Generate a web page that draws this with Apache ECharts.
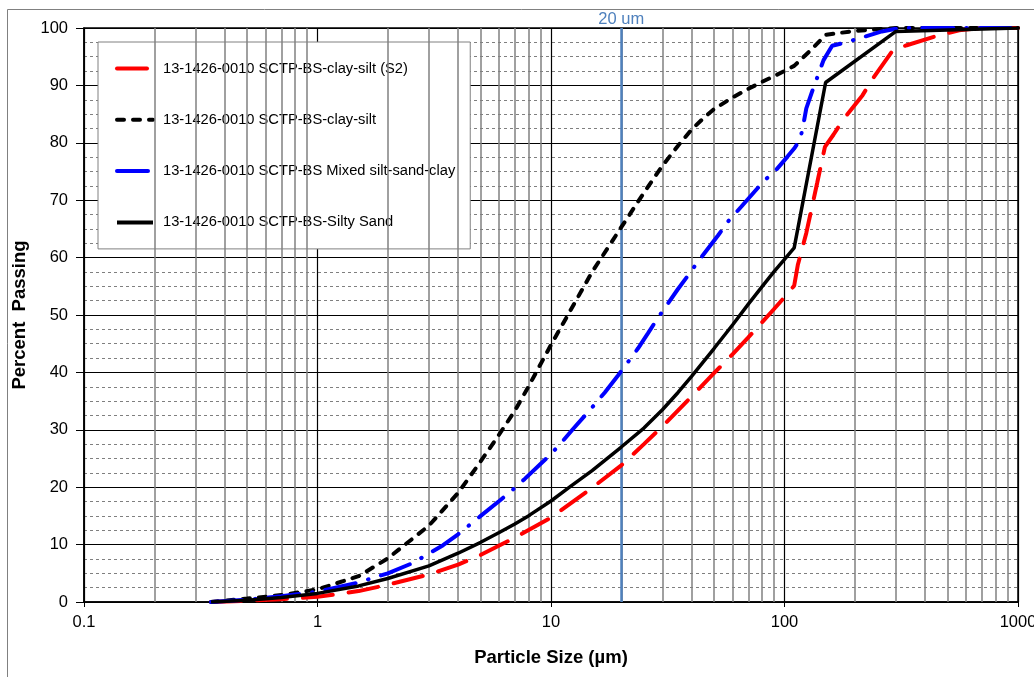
<!DOCTYPE html>
<html>
<head>
<meta charset="utf-8">
<script src="https://cdn.jsdelivr.net/npm/echarts@6.0.0/dist/echarts.min.js"></script>
<style>
  html, body { margin: 0; padding: 0; background: #fff; }
  #main { width: 1034px; height: 677px; }
</style>
</head>
<body>
<div id="main"></div>
<script>
// particle size (um) / percent passing
var redSizes = [0.35, 0.5, 0.7, 1, 1.5, 2, 3, 4, 5, 7, 10, 15, 20, 25, 30, 40, 50, 60, 70, 80, 90, 100, 110, 114, 124, 138, 149, 162, 178, 216, 239, 292, 334, 464, 560, 700, 1000];
var redPass  = [0, 0.2, 0.5, 0.9, 1.9, 3.0, 4.8, 6.5, 8.2, 11.2, 14.7, 19.9, 23.8, 27.5, 30.6, 35.8, 39.9, 43.2, 46.1, 48.7, 51.0, 53.1, 55.1, 58.7, 64.3, 73, 79.3, 81.4, 84, 88.3, 91.2, 96.2, 97, 98.8, 99.6, 100, 100];

var clayDashSizes = [0.35, 0.5, 0.7, 1, 1.5, 2, 3, 4, 5, 6, 7, 8, 10, 12, 15, 20, 25, 30, 35, 40, 45, 50, 60, 70, 80, 90, 100, 110, 130, 150, 200, 300, 1000];
var clayDashPass  = [0, 0.6, 1.2, 2.2, 4.5, 7.6, 13.3, 19, 24.5, 29.2, 33.3, 37.5, 44.8, 50.5, 57.5, 65.3, 71.3, 76.0, 79.5, 82.3, 84.3, 85.9, 87.9, 89.4, 90.6, 91.6, 92.5, 93.4, 96.2, 98.8, 99.5, 100, 100];

var mixedSizes = [0.35, 0.5, 0.7, 1, 1.5, 2, 2.56, 3.45, 4, 5, 6, 6.75, 7.7, 9.9, 11.1, 12.4, 14.5, 17, 19.4, 23.6, 26, 28.7, 34.8, 38.5, 42.8, 52, 57.6, 65.4, 81, 92.6, 103, 110, 116.5, 120, 124, 132, 147, 160, 187, 261, 310, 1000];
var mixedPass  = [0, 0.4, 1.0, 1.8, 3.4, 5.0, 6.8, 9.9, 11.8, 15.0, 17.6, 19.3, 21.4, 25.6, 27.8, 30.1, 33.2, 36.5, 39.5, 44.2, 46.8, 49.5, 54.4, 56.8, 59.4, 63.9, 66.4, 68.9, 73.2, 75.4, 77.6, 79.0, 80.5, 82.8, 86, 89.2, 94.4, 96.9, 97.6, 99.4, 100, 100];

var sandSizes = [0.35, 0.5, 0.7, 1, 1.5, 2, 3, 4, 5, 6, 7, 8, 10, 12, 15, 20, 25, 30, 35, 40, 50, 60, 70, 80, 90, 100, 110, 150, 300, 1000];
var sandPass  = [0, 0.3, 0.8, 1.5, 2.8, 4.1, 6.3, 8.5, 10.4, 12.1, 13.6, 15.0, 17.6, 20.0, 22.9, 27.0, 30.3, 33.5, 36.5, 39.3, 44.2, 48.3, 51.9, 54.9, 57.5, 59.7, 61.7, 90.5, 99.4, 100];

var seriesNames = [
  '13-1426-0010 SCTP-BS-clay-silt (S2)',
  '13-1426-0010 SCTP-BS-clay-silt',
  '13-1426-0010 SCTP-BS Mixed silt-sand-clay',
  '13-1426-0010 SCTP-BS-Silty Sand'
];

var FONT = 'Arial, "Liberation Sans", sans-serif';

function pairs(xs, ys) {
  return xs.map(function (x, i) { return [x, ys[i]]; });
}

// log grid: minor lines at 2..9 of each decade
var minorSizes = [];
[0.1, 1, 10, 100].forEach(function (d) {
  for (var k = 2; k <= 9; k++) minorSizes.push(+(d * k).toPrecision(3));
});

var chart = echarts.init(document.getElementById('main'));

var option = {
  animation: false,
  backgroundColor: '#fff',
  graphic: [{
    type: 'rect',
    left: 5, top: 7,
    shape: { width: 1100, height: 720 },
    style: { fill: 'none', stroke: '#808080', lineWidth: 1 },
    silent: true
  }],
  grid: {
    left: 84, right: 16, top: 28, bottom: 75,
    outerBoundsMode: 'none',
    containLabel: false,
    show: true,
    borderColor: '#000',
    borderWidth: 1.5
  },
  legend: {
    data: seriesNames,
    orient: 'vertical',
    left: 98,
    top: 42,
    padding: [19, 15, 19, 17],
    itemGap: 36.3,
    itemWidth: 36,
    itemHeight: 14,
    backgroundColor: '#fff',
    borderColor: '#808080',
    borderWidth: 1,
    selectedMode: false,
    itemStyle: { opacity: 0 },
    lineStyle: { width: 4 },
    textStyle: { fontFamily: FONT, fontSize: 14.7, color: '#000', padding: [0, 0, 0, 5] }
  },
  xAxis: {
    type: 'log',
    logBase: 10,
    min: 0.1,
    max: 1000,
    name: 'Particle Size (µm)',
    nameLocation: 'middle',
    nameGap: 46,
    nameTextStyle: { fontFamily: FONT, fontSize: 18.5, fontWeight: 'bold', color: '#000' },
    axisLine: { lineStyle: { color: '#000', width: 1.5 } },
    axisTick: { show: true, length: 5, lineStyle: { color: '#000' } },
    axisLabel: {
      fontFamily: FONT, fontSize: 16.5, color: '#000', margin: 12,
      formatter: function (v) { return String(+v.toPrecision(6)); }
    },
    splitLine: { show: true, lineStyle: { color: '#000', width: 1.2 } }
  },
  yAxis: {
    type: 'value',
    min: 0,
    max: 100,
    interval: 10,
    name: 'Percent  Passing',
    nameLocation: 'middle',
    nameGap: 50,
    nameTextStyle: { fontFamily: FONT, fontSize: 18.5, fontWeight: 'bold', color: '#000' },
    axisLine: { show: true, lineStyle: { color: '#000', width: 1.5 } },
    axisTick: { show: true, length: 8, lineStyle: { color: '#000' } },
    axisLabel: { fontFamily: FONT, fontSize: 16.5, color: '#000', margin: 16 },
    splitLine: { show: true, lineStyle: { color: '#000', width: 1.2 } },
    minorTick: { show: false, splitNumber: 4 },
    minorSplitLine: { show: true, lineStyle: { color: '#7f7f7f', width: 1, type: [3, 3] } }
  },
  series: [
    {
      name: 'minor-grid',
      type: 'line',
      data: [],
      silent: true,
      z: 1,
      markLine: {
        silent: true,
        symbol: 'none',
        label: { show: false },
        lineStyle: { color: '#808080', width: 1.5, type: 'solid' },
        data: minorSizes.map(function (v) { return { xAxis: v }; })
      }
    },
    {
      name: '20um',
      type: 'line',
      data: [],
      silent: true,
      z: 2,
      markLine: {
        silent: true,
        symbol: 'none',
        lineStyle: { color: '#4f81bd', width: 2.5, type: 'solid' },
        label: {
          show: true, position: 'end', formatter: '20 um', distance: 0,
          color: '#4f81bd', fontFamily: FONT, fontSize: 16.5
        },
        data: [{ xAxis: 20 }]
      }
    },
    {
      name: seriesNames[0],
      type: 'line',
      data: pairs(redSizes, redPass),
      showSymbol: false, symbol: 'none', z: 5,
      color: '#ff0000',
      lineStyle: { color: '#ff0000', width: 4, type: [30, 16], cap: 'round' }
    },
    {
      name: seriesNames[1],
      type: 'line',
      data: pairs(clayDashSizes, clayDashPass),
      showSymbol: false, symbol: 'none', z: 5,
      color: '#000',
      lineStyle: { color: '#000', width: 4, type: [7, 9], cap: 'round' }
    },
    {
      name: seriesNames[2],
      type: 'line',
      data: pairs(mixedSizes, mixedPass),
      showSymbol: false, symbol: 'none', z: 5,
      color: '#0000ff',
      lineStyle: { color: '#0000ff', width: 4, type: [31, 13, 0.5, 13], cap: 'round' }
    },
    {
      name: seriesNames[3],
      type: 'line',
      data: pairs(sandSizes, sandPass),
      showSymbol: false, symbol: 'none', z: 5,
      color: '#000',
      lineStyle: { color: '#000', width: 3.5 }
    }
  ]
};

chart.setOption(option);
</script>
</body>
</html>
